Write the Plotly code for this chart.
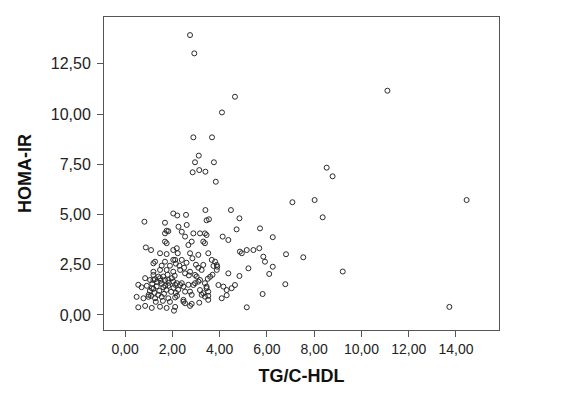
import plotly.graph_objects as go

# TG/C-HDL (x) and HOMA-IR (y)
tg_hdl = [
    2.75, 2.93, 4.65, 4.10, 2.89, 3.68, 3.12, 2.96, 3.76, 2.86, 3.14, 3.40, 3.84,
    7.08, 11.10, 8.53, 8.78, 8.02, 14.45, 8.36, 6.81, 7.54, 9.21, 6.78, 13.72,
    0.82, 2.04, 2.21, 2.58, 1.69, 2.26, 2.61, 1.76, 2.40, 3.40, 4.48, 3.45, 3.55,
    4.84, 5.71, 4.72, 4.13, 4.37, 6.25, 3.38, 3.45, 3.31, 3.38, 4.86, 4.94, 5.15,
    5.43, 5.68, 5.85, 5.92, 6.25, 6.10, 5.22, 4.37, 4.84, 5.82, 5.15,
    3.67, 3.88, 3.81, 3.74, 3.90, 3.88, 3.95, 4.16, 4.30, 4.51, 4.65, 4.09, 4.30,
    3.38, 3.45, 3.31, 3.52, 3.52, 3.14, 2.47, 2.75, 2.07,
    1.69, 1.76, 1.69, 1.83, 2.54, 2.89, 3.17, 2.82, 2.68, 0.88, 1.10,
    1.48, 1.76, 2.04, 2.19, 2.23, 2.12, 1.27, 1.69, 2.04, 2.40, 2.75, 2.85, 3.10,
    3.52, 3.31, 3.24, 1.20, 1.48, 1.76, 2.04, 2.33, 2.54, 2.75, 2.96, 2.70, 3.03,
    3.10, 2.89, 3.17, 3.17, 3.45, 3.52, 2.19, 2.33, 2.47, 2.54, 2.75, 2.82, 3.24,
    3.38, 1.20, 1.20, 1.41, 1.20, 1.62, 1.83, 2.04, 0.85, 1.06, 1.27, 1.48, 1.69,
    1.98, 0.56, 0.70, 0.92, 1.13, 1.34, 1.62, 1.83, 2.12, 2.40, 2.68, 2.96,
    0.49, 0.78, 0.99, 1.27, 1.55, 1.83, 2.12, 2.47, 0.85, 1.13, 1.48, 1.76, 2.12,
    2.54, 2.82, 0.56,
    1.05, 1.15, 1.25, 1.35, 1.45, 1.55, 1.65, 1.75, 1.85, 1.95, 2.05, 2.15, 1.00,
    1.10, 1.40, 1.60, 1.90, 2.20, 1.30, 1.70, 1.20, 1.50, 2.25, 1.80, 2.10, 2.30,
    2.15, 2.50, 2.60, 1.90, 1.55, 3.00, 3.10, 3.60, 3.70, 3.50,
]
homa_ir = [
    13.93, 13.02, 10.86, 10.08, 8.84, 8.84, 7.93, 7.60, 7.60, 7.10, 7.21, 7.13, 6.63,
    5.61, 11.16, 7.33, 6.90, 5.72, 5.72, 4.86, 3.02, 2.87, 2.16, 1.53, 0.40,
    4.64, 5.05, 4.95, 4.98, 4.59, 4.39, 4.48, 4.19, 4.14, 5.22, 5.22, 4.71, 4.76,
    4.81, 4.31, 4.26, 3.90, 3.73, 3.87, 4.06, 3.98, 3.65, 3.57, 3.15, 3.07, 3.23,
    3.23, 3.32, 2.90, 2.65, 2.40, 2.04, 2.32, 2.07, 1.94, 1.04, 0.38,
    2.74, 2.49, 2.65, 2.44, 2.40, 2.24, 1.49, 1.41, 1.24, 1.33, 1.49, 0.83, 0.98,
    1.58, 1.33, 1.08, 0.75, 0.95, 0.61, 0.66, 0.45, 0.21,
    3.65, 3.57, 4.06, 4.17, 3.90, 4.06, 4.06, 3.65, 3.48, 3.36, 3.23,
    3.07, 3.03, 3.23, 3.32, 3.07, 2.74, 2.65, 2.65, 2.74, 2.74, 3.07, 2.82, 2.99,
    3.07, 2.49, 2.24, 2.15, 2.24, 2.24, 2.15, 2.24, 2.07, 2.15, 1.99, 1.97, 1.91,
    1.66, 1.49, 1.24, 1.74, 1.41, 1.16, 1.58, 1.49, 1.41, 1.16, 1.16, 1.00, 1.00,
    0.91, 2.57, 1.99, 1.91, 1.74, 1.91, 1.74, 1.66, 1.83, 1.74, 1.78, 1.83, 1.74,
    1.83, 1.50, 1.38, 1.45, 1.33, 1.42, 1.38, 1.45, 1.50, 1.58, 1.50, 1.58,
    0.90, 0.83, 0.90, 0.83, 0.90, 0.83, 0.87, 0.75, 0.45, 0.35, 0.41, 0.35, 0.40,
    0.58, 0.55, 0.38,
    1.20, 1.55, 1.10, 1.65, 1.20, 1.55, 1.05, 1.25, 1.60, 1.15, 1.35, 1.10, 1.00,
    0.95, 1.00, 0.70, 0.65, 0.95, 0.65, 1.45, 1.30, 1.70, 1.25, 2.00, 1.95, 2.45,
    2.55, 2.35, 2.60, 2.45, 2.45, 2.50, 2.35, 1.90, 2.00, 1.80,
]

x_ticks = [0, 2, 4, 6, 8, 10, 12, 14]
y_ticks = [0, 2.5, 5, 7.5, 10, 12.5]
x_title = "TG/C-HDL"
y_title = "HOMA-IR"

fig = go.Figure(go.Scatter(
    x=tg_hdl, y=homa_ir, mode="markers",
    marker=dict(symbol="circle-open", size=5, color="#2a2a2a",
                line=dict(width=1, color="#2a2a2a")),
    hoverinfo="x+y",
))

font_family = "Arial, 'Liberation Sans', sans-serif"
axis_common = dict(
    showgrid=False, zeroline=False, showline=True, mirror=True,
    linecolor="#555555", linewidth=1, automargin=False,
    ticks="outside", ticklen=6, tickcolor="#555555", tickwidth=1,
    tickformat=".2f",
)
title_font = dict(family=font_family, size=18, color="#111111", weight="bold")

# The page body keeps its default 8px margin, so the figure is sized to fill
# the rest of the 564x398 window.
fig.update_layout(
    width=556, height=390,
    margin=dict(l=96, r=65, t=9, b=68),
    paper_bgcolor="white", plot_bgcolor="white",
    separators=",.",
    showlegend=False,
    xaxis=dict(range=[-0.89, 15.82], tickvals=x_ticks,
               tickfont=dict(family=font_family, size=14, color="#222222"),
               title=dict(text=x_title, standoff=13, font=title_font),
               **axis_common),
    yaxis=dict(range=[-0.75, 14.83], tickvals=y_ticks,
               tickfont=dict(family=font_family, size=16, color="#222222"),
               ticklabelstandoff=3,
               title=dict(text=y_title, standoff=14, font=title_font),
               **axis_common),
)

fig.write_html("out.html")
